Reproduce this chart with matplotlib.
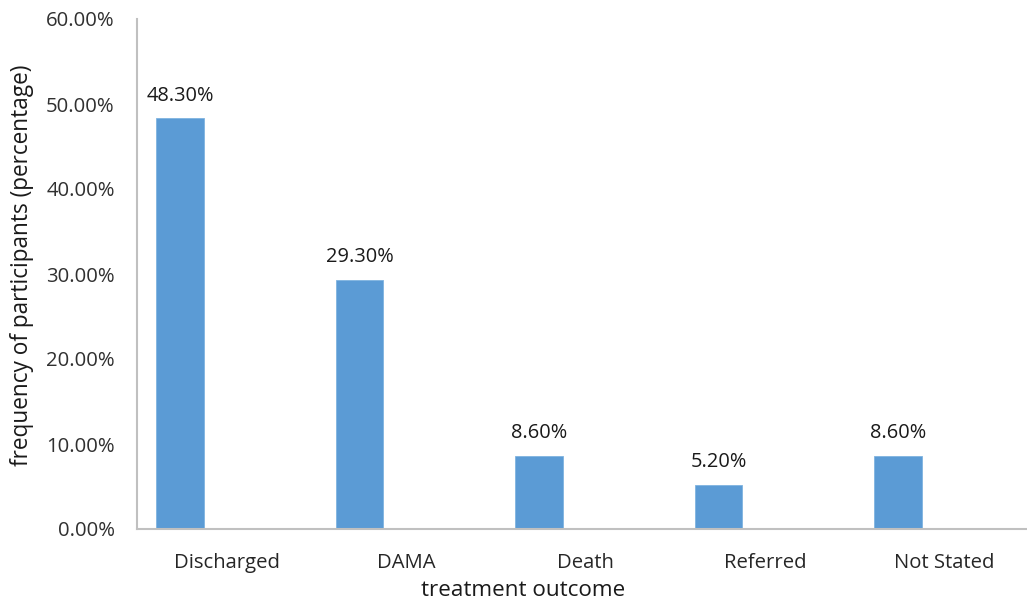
import matplotlib.pyplot as plt
import numpy as np

# treatment outcome data
categories = ['Discharged', 'DAMA', 'Death', 'Referred', 'Not Stated']
values = [48.3, 29.3, 8.6, 5.2, 8.6]
value_labels = ['48.30%', '29.30%', '8.60%', '5.20%', '8.60%']
yticks = [0, 10, 20, 30, 40, 50, 60]

plt.rcParams['font.family'] = ['Open Sans', 'DejaVu Sans']

fig = plt.figure(figsize=(10.27, 6.07), dpi=100)
ax = fig.add_axes([137 / 1027, 78 / 607, 897.5 / 1027, 510 / 607])

x = np.arange(len(categories))
bar_off = -0.26
bars = ax.bar(x + bar_off, values, width=0.264, color='#5b9bd5',
              edgecolor='#7fb3e0', linewidth=0.6)

for xi, v, lab in zip(x, values, value_labels):
    ax.annotate(lab, (xi + bar_off, v), xytext=(0, 9), textcoords='offset points',
                ha='center', va='bottom', fontsize=14.4, color='#1a1a1a')

ax.set_xlim(-0.5, 4.5)
ax.set_ylim(0, 60)
ax.set_yticks(yticks)
ax.set_yticklabels(['%.2f%%' % t for t in yticks], fontsize=14.6, color='#303030')
ax.set_xticks(x)
ax.set_xticklabels(categories, fontsize=14.6, color='#262626')
ax.tick_params(axis='both', length=0)
ax.tick_params(axis='y', pad=16)
ax.tick_params(axis='x', pad=17)

for s in ['top', 'right']:
    ax.spines[s].set_visible(False)
for s in ['left', 'bottom']:
    ax.spines[s].set_color('#c0c0c0')
    ax.spines[s].set_linewidth(1.5)

ax.set_ylabel('frequency of participants (percentage)', fontsize=16.3, color='#1a1a1a')
ax.yaxis.set_label_coords(-0.115, 0.518)
fig.text(523 / 1027, 1 - 591 / 607, 'treatment outcome', ha='center', va='center',
         fontsize=16.2, color='#1a1a1a')

fig.savefig('out.png', dpi=100)
